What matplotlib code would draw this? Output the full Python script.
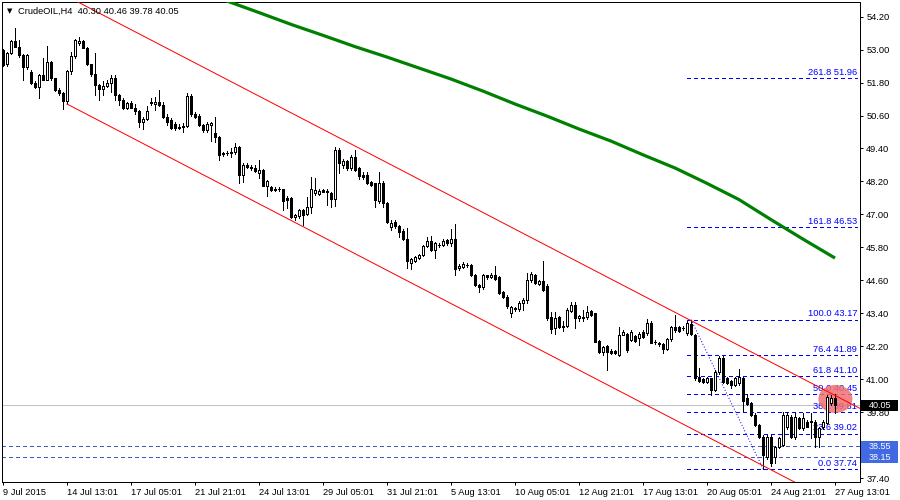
import matplotlib
matplotlib.use("Agg")
import matplotlib.pyplot as plt
from matplotlib.patches import Rectangle, Ellipse
from matplotlib.transforms import blended_transform_factory

plt.rcParams["font.family"] = ["Liberation Sans", "DejaVu Sans"]

# H4 bars, CrudeOIL, 9 Jul 2015 21:00 .. 27 Aug 2015 13:00
opens = [
    52.99, 52.47, 52.87, 53.31, 53.11, 52.81, 52.35, 52.20, 51.78, 51.65,
    52.08, 51.90, 52.54, 51.96, 51.53, 51.41, 51.13, 52.22, 52.77, 53.25,
    53.33, 53.07, 52.46, 52.10, 51.71, 51.56, 51.68, 51.80, 51.96, 51.35,
    51.17, 50.89, 51.05, 50.89, 50.77, 50.35, 50.48, 51.06, 51.02, 51.11,
    50.99, 50.56, 50.42, 50.30, 50.13, 50.20, 50.22, 51.30, 50.66, 50.60,
    50.26, 50.07, 50.25, 49.98, 49.81, 49.20, 49.22, 49.25, 49.28, 49.47,
    48.44, 48.80, 48.74, 48.68, 48.52, 48.62, 48.05, 47.99, 47.89, 47.93,
    47.91, 47.58, 47.60, 46.89, 46.95, 47.16, 47.02, 47.26, 47.78, 47.76,
    47.89, 47.83, 47.79, 47.55, 49.35, 48.80, 48.96, 48.68, 49.10, 48.68,
    48.45, 48.45, 48.19, 48.13, 47.50, 48.13, 47.40, 46.53, 46.74, 46.58,
    46.41, 46.10, 45.24, 45.32, 45.40, 45.52, 45.85, 46.04, 45.71, 45.88,
    45.88, 46.07, 45.95, 46.10, 45.05, 45.10, 45.17, 45.16, 44.79, 44.43,
    44.35, 44.78, 44.71, 44.80, 44.71, 44.19, 44.01, 43.40, 43.56, 43.56,
    43.76, 43.90, 44.61, 44.79, 44.47, 44.59, 44.40, 43.28, 42.85, 43.28,
    42.93, 42.94, 43.50, 43.70, 43.22, 43.22, 43.27, 43.48, 43.40, 42.40,
    42.00, 42.20, 42.04, 42.04, 41.88, 42.61, 42.64, 42.43, 42.57, 42.49,
    42.73, 42.67, 43.06, 42.37, 42.33, 42.27, 42.09, 42.45, 42.89, 42.89,
    42.85, 42.67, 43.00, 42.62, 41.07, 41.00, 40.88, 41.03, 40.61, 41.27,
    41.76, 41.03, 40.95, 40.77, 40.85, 41.05, 40.30, 40.12, 39.70, 39.33,
    38.91, 38.18, 38.91, 38.15, 38.54, 38.60, 39.25, 39.63, 38.88, 39.57,
    39.21, 39.45, 39.44, 39.45, 38.91, 39.27, 39.39, 40.12, 40.30,
]
highs = [
    53.02, 52.90, 53.35, 53.80, 53.35, 52.85, 52.85, 52.25, 51.84, 52.10,
    52.69, 53.15, 52.58, 51.98, 51.60, 51.45, 52.25, 52.90, 53.40, 53.47,
    53.35, 53.10, 52.48, 52.87, 51.75, 51.84, 51.88, 52.08, 52.08, 51.40,
    51.25, 51.08, 51.13, 51.03, 50.80, 50.55, 50.95, 51.25, 51.29, 51.53,
    51.08, 50.65, 50.50, 50.35, 50.30, 50.32, 51.42, 51.38, 50.72, 50.66,
    50.30, 50.35, 50.36, 50.53, 49.85, 49.28, 49.32, 49.40, 49.61, 49.50,
    48.86, 48.88, 48.80, 48.80, 48.98, 48.66, 48.26, 48.04, 47.98, 48.01,
    47.94, 47.66, 47.63, 47.00, 47.20, 47.18, 47.62, 48.35, 48.31, 47.92,
    47.93, 47.92, 47.82, 49.45, 49.40, 49.00, 48.98, 49.15, 49.35, 48.71,
    48.55, 48.55, 48.22, 48.15, 48.56, 48.20, 47.45, 46.78, 46.80, 46.62,
    46.47, 46.49, 45.40, 45.48, 45.56, 45.87, 46.17, 46.20, 46.00, 45.95,
    46.10, 46.10, 46.46, 46.65, 45.20, 45.25, 45.22, 45.18, 44.82, 44.45,
    44.84, 44.80, 44.85, 45.12, 44.74, 44.22, 44.06, 43.68, 43.62, 43.84,
    43.95, 44.88, 44.90, 44.82, 44.62, 45.31, 44.45, 43.46, 43.46, 43.30,
    43.10, 43.58, 43.82, 43.80, 43.34, 43.52, 43.65, 43.52, 43.42, 42.42,
    42.22, 42.25, 42.10, 42.06, 42.89, 42.80, 42.67, 42.80, 42.60, 42.70,
    42.80, 43.18, 43.12, 42.43, 42.37, 42.30, 42.50, 42.92, 43.33, 42.95,
    42.92, 43.10, 43.17, 42.66, 41.40, 41.05, 41.08, 41.06, 41.35, 41.85,
    41.85, 41.08, 40.98, 41.08, 41.36, 41.08, 40.45, 40.18, 39.75, 39.38,
    38.95, 38.95, 38.96, 38.58, 38.90, 39.80, 39.82, 39.68, 39.76, 39.62,
    39.76, 39.50, 39.76, 39.50, 39.25, 39.50, 40.42, 40.42, 40.46,
]
lows = [
    52.42, 52.42, 52.84, 53.08, 52.75, 51.90, 52.30, 51.75, 51.60, 51.23,
    51.88, 51.88, 51.90, 51.50, 51.35, 50.83, 51.02, 52.10, 52.70, 53.17,
    53.05, 52.44, 52.05, 51.35, 51.17, 51.35, 51.65, 51.47, 51.17, 50.99,
    50.85, 50.85, 50.86, 50.65, 50.20, 50.10, 50.45, 50.99, 50.80, 50.95,
    50.52, 50.26, 50.10, 50.08, 50.10, 50.01, 50.18, 50.60, 50.50, 50.22,
    50.00, 50.00, 49.68, 49.65, 48.98, 49.14, 49.18, 49.10, 49.20, 48.16,
    48.19, 48.70, 48.62, 48.55, 48.31, 48.02, 47.67, 47.85, 47.85, 47.84,
    47.16, 47.22, 46.86, 46.80, 46.86, 46.62, 46.98, 47.04, 47.70, 47.70,
    47.80, 47.34, 47.28, 47.30, 48.50, 48.70, 48.62, 48.60, 48.58, 48.30,
    48.30, 48.10, 48.02, 47.28, 47.40, 47.28, 46.70, 46.45, 46.52, 46.19,
    46.05, 45.04, 45.00, 45.25, 45.38, 45.50, 45.83, 45.68, 45.40, 45.80,
    45.85, 45.90, 45.85, 44.79, 44.98, 45.04, 45.10, 44.74, 44.40, 44.19,
    44.30, 44.66, 44.68, 44.60, 44.10, 43.95, 43.60, 43.28, 43.50, 43.50,
    43.52, 43.76, 44.55, 44.45, 44.42, 44.22, 43.16, 42.67, 42.64, 42.85,
    42.77, 42.90, 43.45, 42.85, 43.10, 43.10, 43.20, 43.30, 42.34, 41.96,
    41.88, 41.33, 41.90, 41.92, 41.84, 42.60, 42.00, 42.38, 42.36, 42.25,
    42.50, 42.62, 42.30, 42.28, 42.22, 41.94, 42.05, 42.40, 42.70, 42.73,
    42.80, 42.62, 42.60, 40.98, 40.90, 40.85, 40.85, 40.42, 40.58, 41.20,
    40.85, 40.82, 40.68, 40.74, 40.80, 39.85, 40.05, 39.65, 39.30, 38.85,
    37.74, 38.10, 37.82, 37.95, 38.50, 38.55, 39.20, 38.85, 38.82, 39.18,
    39.15, 39.25, 38.85, 38.54, 38.54, 39.20, 39.35, 40.05, 39.78,
]
closes = [
    52.44, 52.87, 53.31, 53.11, 52.81, 52.35, 52.81, 51.78, 51.65, 52.08,
    51.90, 52.54, 51.96, 51.53, 51.41, 51.13, 52.22, 52.77, 53.35, 53.33,
    53.07, 52.46, 52.10, 51.71, 51.56, 51.68, 51.80, 51.96, 51.35, 51.17,
    50.89, 51.05, 50.89, 50.77, 50.35, 50.48, 50.77, 51.08, 51.11, 50.99,
    50.56, 50.38, 50.14, 50.13, 50.20, 50.22, 51.30, 50.66, 50.56, 50.26,
    50.07, 50.29, 50.32, 49.81, 49.16, 49.22, 49.25, 49.28, 49.47, 48.44,
    48.80, 48.74, 48.68, 48.59, 48.62, 48.05, 48.22, 47.89, 47.93, 47.91,
    47.50, 47.53, 46.89, 46.98, 47.16, 46.98, 47.26, 47.91, 47.89, 47.86,
    47.83, 47.84, 47.55, 49.35, 48.86, 48.96, 48.68, 49.10, 48.62, 48.40,
    48.37, 48.13, 48.07, 47.53, 48.13, 47.40, 46.74, 46.70, 46.58, 46.37,
    46.10, 45.32, 45.36, 45.44, 45.52, 45.85, 46.04, 45.71, 45.95, 45.89,
    46.04, 45.95, 46.10, 45.00, 45.12, 45.19, 45.16, 44.79, 44.43, 44.35,
    44.80, 44.71, 44.80, 44.64, 44.15, 44.01, 43.66, 43.64, 43.58, 43.78,
    43.90, 44.61, 44.83, 44.49, 44.59, 44.25, 43.22, 42.82, 43.22, 42.91,
    42.91, 43.52, 43.70, 43.22, 43.30, 43.27, 43.46, 43.34, 42.37, 42.00,
    42.18, 42.00, 41.94, 41.97, 42.61, 42.73, 42.06, 42.73, 42.40, 42.64,
    42.55, 43.06, 42.33, 42.34, 42.27, 42.09, 42.45, 42.89, 42.79, 42.77,
    42.86, 43.05, 42.65, 41.03, 40.95, 40.91, 41.03, 40.61, 41.27, 41.76,
    40.91, 40.85, 40.77, 41.03, 41.07, 40.20, 40.10, 39.70, 39.33, 38.91,
    38.24, 38.91, 37.94, 38.54, 38.85, 39.70, 39.68, 38.88, 39.63, 39.21,
    39.57, 39.27, 39.46, 38.91, 39.21, 39.45, 40.36, 40.30, 40.05,
]

# moving average, read every 8 bars
ma_idx = [48, 56, 64, 72, 80, 88, 96, 104, 112, 120, 128, 136, 144, 152,
          160, 168, 176, 184, 192, 200, 208]
ma_vals = [55.21, 54.77, 54.35, 53.92, 53.52, 53.11, 52.73, 52.33, 51.93,
           51.49, 51.02, 50.58, 50.11, 49.67, 49.17, 48.69, 48.13, 47.54,
           46.81, 46.10, 45.41]

# price channel: lower line through two points, upper line parallel
chan_idx = [16, 190]
chan_lower = [51.02, 37.85]
chan_upper = [54.94, 41.77]

# fibonacci retracement
fib_start, fib_end = 171, 213.5
fib_levels = ["0.0", "23.6", "38.2", "50.0", "61.8", "76.4", "100.0", "161.8", "261.8"]
fib_prices = [37.74, 39.02, 39.81, 40.45, 41.10, 41.89, 43.17, 46.53, 51.96]
fib_swing_idx = [172, 190]
fib_swing_px = [43.17, 37.74]

hlines = [38.55, 38.15]
last_price = 40.05

x_ticks = list(range(0, 209, 16))
x_labels = ["9 Jul 2015", "14 Jul 13:01", "17 Jul 05:01", "21 Jul 21:01",
            "24 Jul 13:01", "29 Jul 05:01", "31 Jul 21:01", "5 Aug 13:01",
            "10 Aug 05:01", "12 Aug 21:01", "17 Aug 13:01", "20 Aug 05:01",
            "24 Aug 21:01", "27 Aug 13:01"]
y_ticks = [54.20, 53.00, 51.80, 50.60, 49.40, 48.20, 47.00, 45.80, 44.60,
           43.40, 42.20, 41.00, 39.80, 38.60, 37.40]
y_hidden = [38.60]  # covered by the line price boxes

W, H = 900, 500
fig = plt.figure(figsize=(9, 5), dpi=100)
ax = fig.add_axes([2 / W, 1 - 481.7 / H, 858 / W, 479.7 / H])
ax.set_xlim(-0.25, 214.25)
ax.set_ylim(37.266, 54.735)
PX = 0.72  # one pixel in points

for s in ax.spines.values():
    s.set_linewidth(PX)
ax.yaxis.tick_right()
ax.set_yticks(y_ticks)
ax.set_yticklabels(["" if v in y_hidden else f"{v:.2f}" for v in y_ticks])
ax.set_xticks(x_ticks)
ax.set_xticklabels(x_labels)
for lab in ax.get_xticklabels():
    lab.set_ha("left")
ax.tick_params(axis="both", length=2.5, width=PX, labelsize=6.7, pad=2)

# candles
n = len(closes)
ax.vlines(range(n), lows, highs, color="black", lw=PX, antialiased=False, zorder=4)
for i in range(n):
    o, c = opens[i], closes[i]
    up = c >= o
    ax.add_patch(Rectangle((i - 0.3, min(o, c)), 0.6, abs(c - o),
                           facecolor="white" if up else "black", edgecolor="black",
                           lw=PX, antialiased=False, zorder=4.1))

ax.plot(ma_idx, ma_vals, color="#008000", lw=2.3, zorder=3, solid_capstyle="butt")

# channel
xr = 214.25
for ys in (chan_lower, chan_upper):
    slope = (ys[1] - ys[0]) / (chan_idx[1] - chan_idx[0])
    ax.plot([chan_idx[0], xr], [ys[0], ys[0] + slope * (xr - chan_idx[0])],
            color="red", lw=PX, zorder=5)

# horizontal lines
ax.axhline(last_price, color="#c0c0c0", lw=PX, antialiased=False, zorder=1)
for p in hlines:
    ax.axhline(p, color="#3c5ac8", lw=PX, ls=(0, (4, 3)), antialiased=False, zorder=2)

# fibo
for lvl, p in zip(fib_levels, fib_prices):
    ax.plot([fib_start, fib_end], [p, p], color="#0000ff", lw=PX, ls=(0, (4, 3)),
            antialiased=False, zorder=2)
    ax.text(fib_end, p + 0.04, f"{lvl} {p:.2f}", color="#0000ff", fontsize=6.7,
            ha="right", va="bottom", zorder=3)
ax.plot(fib_swing_idx, fib_swing_px, color="#0000ff", lw=PX, ls=(0, (1, 2)), zorder=2)

ax.add_patch(Ellipse((208.1, 40.28), 8.5, 1.02, facecolor="#f07070", edgecolor="none",
                     alpha=0.85, zorder=3.5))

# price boxes on the axis
tr = blended_transform_factory(ax.transAxes, ax.transData)
bx0, bw = 1.0015, 0.043
boxes = [(last_price, "black"), (hlines[0], "#4169e1"), (hlines[1], "#4169e1")]
for p, col in boxes:
    ax.add_patch(Rectangle((bx0, p - 0.2), bw, 0.4, transform=tr, facecolor=col,
                           edgecolor="none", clip_on=False, zorder=6))
    ax.text(bx0 + bw / 2, p, f"{p:.2f}", transform=tr, color="white", fontsize=6.5,
            ha="center", va="center", clip_on=False, zorder=7)

fig.text(9.5 / W, 1 - 11.5 / H, "\u25bc", fontsize=5, ha="center", va="center",
         family="DejaVu Sans")
fig.text(18 / W, 1 - 11 / H, "CrudeOIL,H4  40.30 40.46 39.78 40.05", fontsize=6.7,
         ha="left", va="center")

fig.savefig("out.png", dpi=100)
